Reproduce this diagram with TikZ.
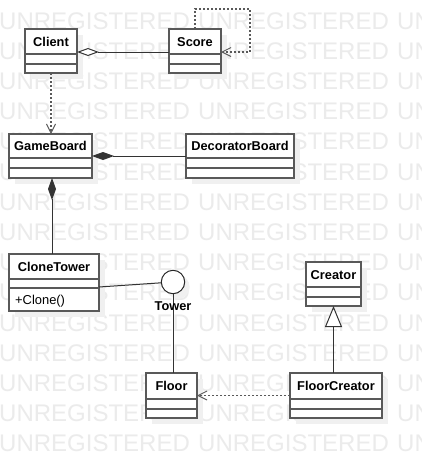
\documentclass[tikz,border=0pt]{standalone}
\usepackage{fontspec}
\setmainfont{Liberation Sans}
\usetikzlibrary{arrows.meta,calc}
\newcommand{\umlbox}[8]{%
  \fill[shade] (#2+6,#3+6) rectangle (#4+6,#5+6);
  \node[box, minimum width=#4-#2, minimum height=#5-#3] (#1) at (#2,#3) {};
  \draw[boxline] (#2,#6) -- (#4,#6);
  \draw[boxline] (#2,#7) -- (#4,#7);
  \node[ttl] (#1-t) at ({(#2+#4)/2},{(#3+#6)/2+4.6}) {#8};
}
\begin{document}
\begin{tikzpicture}[x=1pt,y=-1pt,
  box/.style={draw=black!65, line width=1.2pt, fill=white, inner sep=0pt, outer sep=0pt, anchor=north west},
  boxline/.style={draw=black!65, line width=1.2pt},
  shade/.style={fill=black!6},
  ttl/.style={font=\fontsize{12.8}{15}\selectfont\bfseries, inner sep=0pt, anchor=base},
  mth/.style={font=\fontsize{12.9}{15}\selectfont, inner sep=0pt, anchor=base west},
  wm/.style={font=\fontsize{24}{28}\selectfont, text=black!8, inner sep=0pt, anchor=base west},
  conn/.style={draw=black!80, line width=1pt},
  dep/.style={draw=black!65, line width=1.2pt, dash pattern=on 2pt off 2pt, -{Straight Barb[length=9pt,width=9pt,line width=1pt]}},
  aggr/.style={{Diamond[open,fill=white,length=22pt,width=8pt]}-},
  comp/.style={{Diamond[length=22pt,width=8pt]}-},
  gen/.style={-{Triangle[open,fill=white,length=21pt,width=17pt]}}
]
\useasboundingbox (0,0) rectangle (422,458);
\fill[white] (0,0) rectangle (422,458);
\begin{scope}
  \clip (0,0) rectangle (422,458);
  \foreach \k in {0,...,14} {
    \foreach \xx [count=\j] in {-1,198,397} {
      \node[wm] (wm-\k-\j) at (\xx, {29+30.2*\k}) {UNREGISTERED};
    }
  }
\end{scope}

\umlbox{client}{25}{29}{77}{73}{54}{64}{Client}
\umlbox{score}{169}{29}{221}{73}{54}{64}{Score}
\umlbox{gameboard}{9}{134}{92}{178}{158}{168}{GameBoard}
\umlbox{decorator}{186}{134}{294}{178}{158}{168}{DecoratorBoard}
\umlbox{clonetower}{9}{254}{99}{311}{279}{288}{CloneTower}
\node[mth] (clonetower-m) at (15,304.3) {+Clone()};
\umlbox{creator}{306}{262}{361}{306}{287}{297}{Creator}
\umlbox{floor}{146}{373}{197}{418}{399}{409}{Floor}
\umlbox{floorcreator}{290}{373}{382}{418}{399}{409}{FloorCreator}

% lollipop interface
\fill[shade] (178,287) circle (11.7);
\node[circle, draw=black!85, line width=1pt, fill=white, minimum size=23.4pt, inner sep=0pt] (tower) at (173,282) {};

% connectors
\draw[conn, aggr] ([yshift=-1pt]client.east) -- ([yshift=-1pt]score.west);
\coordinate (loop) at (250,9);
\draw[dep] (score.north) |- (loop) |- ([yshift=-1pt]score.east);
\draw[dep] (client.south) -- (client.south |- gameboard.north);
\draw[conn, comp] (gameboard.east) -- (decorator.west);
\draw[conn, comp] ([xshift=1.5pt]gameboard.south) -- ([xshift=1.5pt]gameboard.south |- clonetower.north);
\draw[conn] ([yshift=-4.5pt]clonetower.east) -- (tower);
\draw[conn] (tower.south) -- (tower.south |- floor.north);
\node[ttl] (tower-l) at (173,310.5) {Tower};
\draw[conn, gen] (floorcreator.north -| creator.south) -- (creator.south);
\draw[dep] (floorcreator.west) -- (floor.east);
\end{tikzpicture}
\end{document}
